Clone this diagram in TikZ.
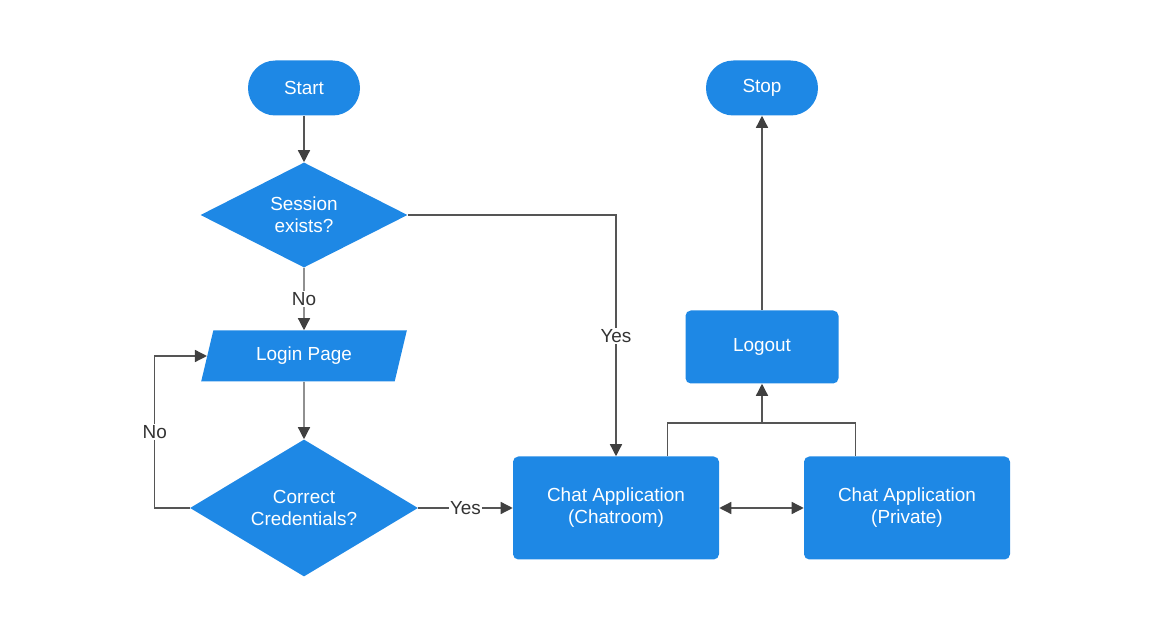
\documentclass[tikz,border=0pt]{standalone}
\usepackage{fontspec}
\setmainfont{Liberation Sans}
\usetikzlibrary{shapes.geometric,arrows.meta,calc}
\definecolor{boxblue}{HTML}{1E88E5}
\definecolor{linegray}{HTML}{555555}
\definecolor{tipgray}{HTML}{404040}

\begin{document}
\begin{tikzpicture}[x=0.75pt,y=-0.75pt]
\tikzset{base/.style = {fill=boxblue, text=white, font=\fontsize{14.2}{16.5}\selectfont, align=center, inner sep=0pt}}
\tikzset{term/.style = {base, rectangle, rounded corners=20.5pt, minimum width=84pt, minimum height=41.25pt}}
\tikzset{decision/.style = {base, diamond, aspect=2}}
\tikzset{process/.style = {base, rectangle, rounded corners=4pt}}
\tikzset{io/.style = {base, trapezium, trapezium left angle=70, trapezium right angle=110, trapezium stretches=true}}
\tikzset{edge/.style = {draw=linegray, line width=1pt, -{Triangle[width=9pt,length=9pt,color=tipgray]}}}
\tikzset{line/.style = {draw=linegray, line width=1pt}}
\tikzset{lbl/.style = {fill=white, text=black!80, font=\fontsize{14.2}{16}\selectfont, inner sep=1pt}}
\useasboundingbox (0,0) rectangle (1165,634);
% vertices
\node[term] (start) at (304,88) {Start};
\node[term] (stop) at (762,88) {Stop};
\node[decision, minimum width=155.25pt, minimum height=78.75pt] (session) at (304,215) {Session\\exists?};
\node[io, minimum width=155.25pt, minimum height=38.25pt] (login) at (304,356) {Login Page};
\node[decision, minimum width=171pt, minimum height=102.75pt] (cred) at (304,508) {Correct\\Credentials?};
\node[process, minimum width=154.5pt, minimum height=77.25pt] (chatroom) at (616,508) {Chat Application\\(Chatroom)};
\node[process, minimum width=154.5pt, minimum height=77.25pt] (private) at (907,508) {Chat Application\\(Private)};
\node[process, minimum width=114.75pt, minimum height=54.75pt] (logout) at (762,347) {Logout};
\coordinate (join) at (762,423);

%edges
\draw[edge] (start) -- (session);
\draw[edge] (session) -- node[lbl] {No} (login);
\draw[edge] (session.east) -| node[lbl, pos=0.75] {Yes} (chatroom.north);
\draw[edge] (login) -- (cred);
\draw[edge] (cred.west) -- ++(-35,0) |- node[lbl, pos=0.25] {No} (login.west);
\draw[edge] (cred.east) -- node[lbl] {Yes} (chatroom.west);
\draw[edge, {Triangle[width=9pt,length=9pt,color=tipgray]}-{Triangle[width=9pt,length=9pt,color=tipgray]}] (chatroom) -- (private);
\draw[line] ($(chatroom.north)!0.5!(chatroom.north east)$) |- (join) -| ($(private.north)!0.5!(private.north west)$);
\draw[edge] (join) -- (logout);
\draw[edge] (logout) -- (stop);

\end{tikzpicture}
\end{document}
